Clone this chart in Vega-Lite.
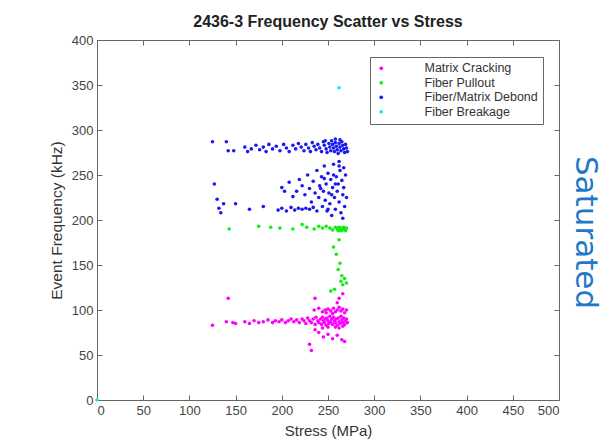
{
  "$schema": "https://vega.github.io/schema/vega-lite/v6.json",
  "autosize": "none",
  "width": 462,
  "height": 360,
  "padding": {"left": 97, "top": 40, "right": 45, "bottom": 48},
  "background": "white",
  "title": {"text": "2436-3 Frequency Scatter vs Stress", "font": "Liberation Sans", "fontSize": 16, "fontWeight": "bold", "color": "#222", "offset": 4, "anchor": "middle"},
  "config": {
    "view": {"stroke": null},
    "axis": {"labelFont": "Liberation Sans", "titleFont": "Liberation Sans", "labelColor": "#444", "titleColor": "#333", "labelFontSize": 13, "titleFontWeight": "normal", "domainColor": "#666", "tickColor": "#666", "grid": false, "tickSize": -5, "tickWidth": 1}
  },
  "data": {"values": [
    {"s":125,"f":83,"t":"Matrix Cracking"},{"s":140,"f":87,"t":"Matrix Cracking"},{"s":147,"f":86,"t":"Matrix Cracking"},{"s":150,"f":85,"t":"Matrix Cracking"},{"s":160,"f":87,"t":"Matrix Cracking"},{"s":165,"f":85,"t":"Matrix Cracking"},{"s":170,"f":88,"t":"Matrix Cracking"},{"s":175,"f":86,"t":"Matrix Cracking"},{"s":180,"f":87,"t":"Matrix Cracking"},{"s":185,"f":89,"t":"Matrix Cracking"},{"s":190,"f":86,"t":"Matrix Cracking"},{"s":193,"f":88,"t":"Matrix Cracking"},{"s":197,"f":87,"t":"Matrix Cracking"},{"s":200,"f":89,"t":"Matrix Cracking"},{"s":204,"f":86,"t":"Matrix Cracking"},{"s":207,"f":88,"t":"Matrix Cracking"},{"s":210,"f":90,"t":"Matrix Cracking"},{"s":213,"f":87,"t":"Matrix Cracking"},{"s":216,"f":89,"t":"Matrix Cracking"},{"s":219,"f":86,"t":"Matrix Cracking"},{"s":222,"f":90,"t":"Matrix Cracking"},{"s":224,"f":88,"t":"Matrix Cracking"},{"s":226,"f":85,"t":"Matrix Cracking"},{"s":228,"f":91,"t":"Matrix Cracking"},{"s":230,"f":88,"t":"Matrix Cracking"},{"s":232,"f":86,"t":"Matrix Cracking"},{"s":234,"f":90,"t":"Matrix Cracking"},{"s":236,"f":84,"t":"Matrix Cracking"},{"s":237,"f":92,"t":"Matrix Cracking"},{"s":239,"f":88,"t":"Matrix Cracking"},{"s":240,"f":86,"t":"Matrix Cracking"},{"s":242,"f":90,"t":"Matrix Cracking"},{"s":243,"f":84,"t":"Matrix Cracking"},{"s":244,"f":92,"t":"Matrix Cracking"},{"s":245,"f":88,"t":"Matrix Cracking"},{"s":246,"f":86,"t":"Matrix Cracking"},{"s":247,"f":90,"t":"Matrix Cracking"},{"s":248,"f":83,"t":"Matrix Cracking"},{"s":249,"f":91,"t":"Matrix Cracking"},{"s":250,"f":88,"t":"Matrix Cracking"},{"s":251,"f":85,"t":"Matrix Cracking"},{"s":252,"f":93,"t":"Matrix Cracking"},{"s":253,"f":87,"t":"Matrix Cracking"},{"s":254,"f":90,"t":"Matrix Cracking"},{"s":255,"f":84,"t":"Matrix Cracking"},{"s":256,"f":92,"t":"Matrix Cracking"},{"s":257,"f":88,"t":"Matrix Cracking"},{"s":258,"f":86,"t":"Matrix Cracking"},{"s":259,"f":90,"t":"Matrix Cracking"},{"s":260,"f":83,"t":"Matrix Cracking"},{"s":261,"f":91,"t":"Matrix Cracking"},{"s":262,"f":87,"t":"Matrix Cracking"},{"s":263,"f":85,"t":"Matrix Cracking"},{"s":264,"f":93,"t":"Matrix Cracking"},{"s":265,"f":89,"t":"Matrix Cracking"},{"s":266,"f":86,"t":"Matrix Cracking"},{"s":267,"f":91,"t":"Matrix Cracking"},{"s":268,"f":84,"t":"Matrix Cracking"},{"s":269,"f":88,"t":"Matrix Cracking"},{"s":270,"f":90,"t":"Matrix Cracking"},{"s":271,"f":86,"t":"Matrix Cracking"},{"s":262,"f":80,"t":"Matrix Cracking"},{"s":266,"f":82,"t":"Matrix Cracking"},{"s":258,"f":81,"t":"Matrix Cracking"},{"s":250,"f":81,"t":"Matrix Cracking"},{"s":244,"f":80,"t":"Matrix Cracking"},
    {"s":235,"f":100,"t":"Matrix Cracking"},{"s":240,"f":102,"t":"Matrix Cracking"},{"s":244,"f":98,"t":"Matrix Cracking"},{"s":247,"f":100,"t":"Matrix Cracking"},{"s":250,"f":101,"t":"Matrix Cracking"},{"s":253,"f":99,"t":"Matrix Cracking"},{"s":256,"f":102,"t":"Matrix Cracking"},{"s":258,"f":98,"t":"Matrix Cracking"},{"s":260,"f":100,"t":"Matrix Cracking"},{"s":262,"f":103,"t":"Matrix Cracking"},{"s":264,"f":99,"t":"Matrix Cracking"},{"s":266,"f":101,"t":"Matrix Cracking"},{"s":268,"f":97,"t":"Matrix Cracking"},{"s":270,"f":100,"t":"Matrix Cracking"},{"s":255,"f":96,"t":"Matrix Cracking"},{"s":248,"f":97,"t":"Matrix Cracking"},
    {"s":142,"f":113,"t":"Matrix Cracking"},{"s":236,"f":113,"t":"Matrix Cracking"},{"s":262,"f":113,"t":"Matrix Cracking"},{"s":260,"f":108,"t":"Matrix Cracking"},{"s":266,"f":118,"t":"Matrix Cracking"},
    {"s":230,"f":62,"t":"Matrix Cracking"},{"s":232,"f":55,"t":"Matrix Cracking"},{"s":240,"f":75,"t":"Matrix Cracking"},{"s":245,"f":70,"t":"Matrix Cracking"},{"s":255,"f":68,"t":"Matrix Cracking"},{"s":265,"f":67,"t":"Matrix Cracking"},{"s":250,"f":73,"t":"Matrix Cracking"},{"s":260,"f":72,"t":"Matrix Cracking"},{"s":268,"f":65,"t":"Matrix Cracking"},{"s":236,"f":78,"t":"Matrix Cracking"},
    {"s":143,"f":190,"t":"Fiber Pullout"},{"s":175,"f":193,"t":"Fiber Pullout"},{"s":188,"f":192,"t":"Fiber Pullout"},{"s":198,"f":191,"t":"Fiber Pullout"},{"s":212,"f":190,"t":"Fiber Pullout"},{"s":222,"f":195,"t":"Fiber Pullout"},{"s":227,"f":192,"t":"Fiber Pullout"},{"s":235,"f":190,"t":"Fiber Pullout"},{"s":240,"f":193,"t":"Fiber Pullout"},{"s":244,"f":191,"t":"Fiber Pullout"},{"s":248,"f":193,"t":"Fiber Pullout"},{"s":252,"f":191,"t":"Fiber Pullout"},{"s":255,"f":189,"t":"Fiber Pullout"},{"s":258,"f":192,"t":"Fiber Pullout"},{"s":260,"f":190,"t":"Fiber Pullout"},{"s":261,"f":188,"t":"Fiber Pullout"},{"s":262,"f":192,"t":"Fiber Pullout"},{"s":263,"f":190,"t":"Fiber Pullout"},{"s":264,"f":188,"t":"Fiber Pullout"},{"s":265,"f":191,"t":"Fiber Pullout"},{"s":266,"f":189,"t":"Fiber Pullout"},{"s":267,"f":192,"t":"Fiber Pullout"},{"s":268,"f":190,"t":"Fiber Pullout"},{"s":269,"f":188,"t":"Fiber Pullout"},{"s":270,"f":191,"t":"Fiber Pullout"},{"s":256,"f":170,"t":"Fiber Pullout"},{"s":259,"f":162,"t":"Fiber Pullout"},{"s":263,"f":152,"t":"Fiber Pullout"},{"s":261,"f":145,"t":"Fiber Pullout"},{"s":265,"f":138,"t":"Fiber Pullout"},{"s":264,"f":132,"t":"Fiber Pullout"},{"s":266,"f":128,"t":"Fiber Pullout"},{"s":257,"f":123,"t":"Fiber Pullout"},{"s":253,"f":121,"t":"Fiber Pullout"},{"s":262,"f":178,"t":"Fiber Pullout"},{"s":268,"f":135,"t":"Fiber Pullout"},{"s":270,"f":130,"t":"Fiber Pullout"},
    {"s":125,"f":287,"t":"Fiber/Matrix Debond"},{"s":140,"f":287,"t":"Fiber/Matrix Debond"},{"s":142,"f":277,"t":"Fiber/Matrix Debond"},{"s":148,"f":277,"t":"Fiber/Matrix Debond"},{"s":160,"f":281,"t":"Fiber/Matrix Debond"},{"s":163,"f":276,"t":"Fiber/Matrix Debond"},{"s":167,"f":279,"t":"Fiber/Matrix Debond"},{"s":172,"f":283,"t":"Fiber/Matrix Debond"},{"s":176,"f":278,"t":"Fiber/Matrix Debond"},{"s":180,"f":281,"t":"Fiber/Matrix Debond"},{"s":183,"f":276,"t":"Fiber/Matrix Debond"},{"s":186,"f":284,"t":"Fiber/Matrix Debond"},{"s":190,"f":279,"t":"Fiber/Matrix Debond"},{"s":194,"f":282,"t":"Fiber/Matrix Debond"},{"s":198,"f":277,"t":"Fiber/Matrix Debond"},{"s":202,"f":284,"t":"Fiber/Matrix Debond"},{"s":205,"f":280,"t":"Fiber/Matrix Debond"},{"s":208,"f":276,"t":"Fiber/Matrix Debond"},{"s":212,"f":283,"t":"Fiber/Matrix Debond"},{"s":215,"f":279,"t":"Fiber/Matrix Debond"},{"s":218,"f":285,"t":"Fiber/Matrix Debond"},{"s":221,"f":281,"t":"Fiber/Matrix Debond"},{"s":224,"f":277,"t":"Fiber/Matrix Debond"},{"s":226,"f":284,"t":"Fiber/Matrix Debond"},{"s":229,"f":280,"t":"Fiber/Matrix Debond"},{"s":231,"f":276,"t":"Fiber/Matrix Debond"},{"s":233,"f":286,"t":"Fiber/Matrix Debond"},{"s":235,"f":282,"t":"Fiber/Matrix Debond"},{"s":237,"f":278,"t":"Fiber/Matrix Debond"},{"s":239,"f":284,"t":"Fiber/Matrix Debond"},{"s":241,"f":280,"t":"Fiber/Matrix Debond"},{"s":243,"f":276,"t":"Fiber/Matrix Debond"},{"s":245,"f":287,"t":"Fiber/Matrix Debond"},{"s":246,"f":283,"t":"Fiber/Matrix Debond"},{"s":248,"f":279,"t":"Fiber/Matrix Debond"},{"s":249,"f":275,"t":"Fiber/Matrix Debond"},{"s":251,"f":285,"t":"Fiber/Matrix Debond"},{"s":252,"f":281,"t":"Fiber/Matrix Debond"},{"s":253,"f":277,"t":"Fiber/Matrix Debond"},{"s":254,"f":288,"t":"Fiber/Matrix Debond"},{"s":255,"f":284,"t":"Fiber/Matrix Debond"},{"s":256,"f":280,"t":"Fiber/Matrix Debond"},{"s":257,"f":276,"t":"Fiber/Matrix Debond"},{"s":258,"f":286,"t":"Fiber/Matrix Debond"},{"s":259,"f":282,"t":"Fiber/Matrix Debond"},{"s":260,"f":278,"t":"Fiber/Matrix Debond"},{"s":261,"f":274,"t":"Fiber/Matrix Debond"},{"s":262,"f":285,"t":"Fiber/Matrix Debond"},{"s":263,"f":281,"t":"Fiber/Matrix Debond"},{"s":264,"f":277,"t":"Fiber/Matrix Debond"},{"s":265,"f":287,"t":"Fiber/Matrix Debond"},{"s":266,"f":283,"t":"Fiber/Matrix Debond"},{"s":267,"f":279,"t":"Fiber/Matrix Debond"},{"s":268,"f":275,"t":"Fiber/Matrix Debond"},{"s":269,"f":284,"t":"Fiber/Matrix Debond"},{"s":270,"f":280,"t":"Fiber/Matrix Debond"},{"s":271,"f":276,"t":"Fiber/Matrix Debond"},{"s":263,"f":289,"t":"Fiber/Matrix Debond"},{"s":258,"f":290,"t":"Fiber/Matrix Debond"},{"s":247,"f":288,"t":"Fiber/Matrix Debond"},
    {"s":127,"f":240,"t":"Fiber/Matrix Debond"},{"s":130,"f":223,"t":"Fiber/Matrix Debond"},{"s":132,"f":213,"t":"Fiber/Matrix Debond"},{"s":134,"f":208,"t":"Fiber/Matrix Debond"},{"s":137,"f":218,"t":"Fiber/Matrix Debond"},{"s":150,"f":218,"t":"Fiber/Matrix Debond"},{"s":165,"f":212,"t":"Fiber/Matrix Debond"},{"s":180,"f":215,"t":"Fiber/Matrix Debond"},{"s":200,"f":236,"t":"Fiber/Matrix Debond"},{"s":203,"f":232,"t":"Fiber/Matrix Debond"},{"s":208,"f":242,"t":"Fiber/Matrix Debond"},{"s":212,"f":226,"t":"Fiber/Matrix Debond"},{"s":216,"f":232,"t":"Fiber/Matrix Debond"},{"s":219,"f":245,"t":"Fiber/Matrix Debond"},{"s":222,"f":238,"t":"Fiber/Matrix Debond"},{"s":225,"f":228,"t":"Fiber/Matrix Debond"},{"s":228,"f":250,"t":"Fiber/Matrix Debond"},{"s":230,"f":235,"t":"Fiber/Matrix Debond"},{"s":232,"f":220,"t":"Fiber/Matrix Debond"},{"s":234,"f":243,"t":"Fiber/Matrix Debond"},{"s":236,"f":230,"t":"Fiber/Matrix Debond"},{"s":238,"f":255,"t":"Fiber/Matrix Debond"},{"s":240,"f":225,"t":"Fiber/Matrix Debond"},{"s":241,"f":238,"t":"Fiber/Matrix Debond"},{"s":243,"f":248,"t":"Fiber/Matrix Debond"},{"s":244,"f":215,"t":"Fiber/Matrix Debond"},{"s":245,"f":232,"t":"Fiber/Matrix Debond"},{"s":246,"f":260,"t":"Fiber/Matrix Debond"},{"s":247,"f":222,"t":"Fiber/Matrix Debond"},{"s":248,"f":240,"t":"Fiber/Matrix Debond"},{"s":249,"f":210,"t":"Fiber/Matrix Debond"},{"s":250,"f":252,"t":"Fiber/Matrix Debond"},{"s":251,"f":230,"t":"Fiber/Matrix Debond"},{"s":252,"f":218,"t":"Fiber/Matrix Debond"},{"s":253,"f":245,"t":"Fiber/Matrix Debond"},{"s":254,"f":205,"t":"Fiber/Matrix Debond"},{"s":255,"f":236,"t":"Fiber/Matrix Debond"},{"s":256,"f":262,"t":"Fiber/Matrix Debond"},{"s":257,"f":225,"t":"Fiber/Matrix Debond"},{"s":258,"f":212,"t":"Fiber/Matrix Debond"},{"s":259,"f":248,"t":"Fiber/Matrix Debond"},{"s":260,"f":232,"t":"Fiber/Matrix Debond"},{"s":261,"f":240,"t":"Fiber/Matrix Debond"},{"s":262,"f":220,"t":"Fiber/Matrix Debond"},{"s":263,"f":255,"t":"Fiber/Matrix Debond"},{"s":264,"f":208,"t":"Fiber/Matrix Debond"},{"s":265,"f":244,"t":"Fiber/Matrix Debond"},{"s":266,"f":228,"t":"Fiber/Matrix Debond"},{"s":267,"f":236,"t":"Fiber/Matrix Debond"},{"s":268,"f":215,"t":"Fiber/Matrix Debond"},{"s":269,"f":250,"t":"Fiber/Matrix Debond"},{"s":270,"f":225,"t":"Fiber/Matrix Debond"},{"s":266,"f":202,"t":"Fiber/Matrix Debond"},{"s":262,"f":260,"t":"Fiber/Matrix Debond"},{"s":258,"f":240,"t":"Fiber/Matrix Debond"},{"s":254,"f":228,"t":"Fiber/Matrix Debond"},{"s":250,"f":212,"t":"Fiber/Matrix Debond"},{"s":246,"f":246,"t":"Fiber/Matrix Debond"},{"s":242,"f":235,"t":"Fiber/Matrix Debond"},{"s":238,"f":210,"t":"Fiber/Matrix Debond"},{"s":234,"f":214,"t":"Fiber/Matrix Debond"},{"s":230,"f":212,"t":"Fiber/Matrix Debond"},{"s":226,"f":213,"t":"Fiber/Matrix Debond"},{"s":222,"f":212,"t":"Fiber/Matrix Debond"},{"s":218,"f":213,"t":"Fiber/Matrix Debond"},{"s":214,"f":211,"t":"Fiber/Matrix Debond"},{"s":210,"f":214,"t":"Fiber/Matrix Debond"},{"s":205,"f":210,"t":"Fiber/Matrix Debond"},{"s":200,"f":213,"t":"Fiber/Matrix Debond"},{"s":196,"f":211,"t":"Fiber/Matrix Debond"},{"s":262,"f":265,"t":"Fiber/Matrix Debond"},{"s":256,"f":250,"t":"Fiber/Matrix Debond"},{"s":267,"f":258,"t":"Fiber/Matrix Debond"},
    {"s":262,"f":347,"t":"Fiber Breakage"},{"s":0,"f":0,"t":"Fiber Breakage"}
  ]},
  "layer": [
    {
      "transform": [{"filter": "datum.t !== 'Fiber Breakage'"}],
      "mark": {"type": "point", "shape": "circle", "filled": true, "size": 13, "opacity": 1, "clip": false},
      "encoding": {
        "x": {"field": "s", "type": "quantitative", "scale": {"domain": [0, 500], "nice": false}, "axis": {"orient": "bottom", "title": "Stress (MPa)", "titleFontSize": 15, "values": [0,50,100,150,200,250,300,350,400,450,500], "labelPadding": 9, "titlePadding": 6}},
        "y": {"field": "f", "type": "quantitative", "scale": {"domain": [0, 400], "nice": false}, "axis": {"orient": "left", "title": "Event Frequency (kHz)", "titleFontSize": 15.5, "values": [0,50,100,150,200,250,300,350,400], "labelPadding": 9, "titlePadding": 7}},
        "color": {"field": "t", "type": "nominal", "scale": {"domain": ["Matrix Cracking", "Fiber Pullout", "Fiber/Matrix Debond", "Fiber Breakage"], "range": ["#ff00ff", "#11ee11", "#1a1aee", "#00f0f0"]},
          "legend": {"title": null, "orient": "none", "legendX": 273, "legendY": 17, "strokeColor": "#666", "fillColor": "white", "padding": 5, "labelOffset": 37, "symbolType": "circle", "symbolSize": 14, "labelFont": "Liberation Sans", "labelFontSize": 12.5, "labelColor": "#333", "rowPadding": 1.5, "labelLimit": 250}}
      }
    },
    {
      "transform": [{"filter": "datum.t === 'Fiber Breakage'"}],
      "mark": {"type": "point", "shape": "circle", "filled": true, "size": 13, "opacity": 1, "clip": false},
      "encoding": {
        "x": {"field": "s", "type": "quantitative", "scale": {"domain": [0, 500], "nice": false}, "axis": {"orient": "top", "title": null, "labels": false, "values": [0,50,100,150,200,250,300,350,400,450,500]}},
        "y": {"field": "f", "type": "quantitative", "scale": {"domain": [0, 400], "nice": false}, "axis": {"orient": "right", "title": "Saturated", "labels": false, "values": [0,50,100,150,200,250,300,350,400], "titleAngle": 90, "titleFont": "DejaVu Sans", "titleFontSize": 31, "titleColor": "#1f78c8", "titlePadding": 9, "titleY": 192, "titleFontWeight": "normal"}},
        "color": {"field": "t", "type": "nominal"}
      }
    }
  ],
  "resolve": {"axis": {"x": "independent", "y": "independent"}}
}
